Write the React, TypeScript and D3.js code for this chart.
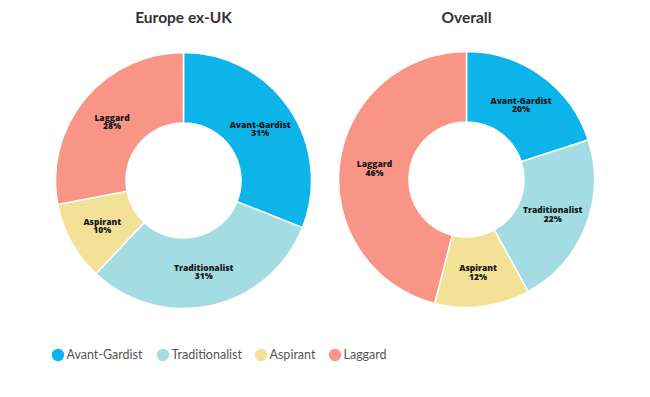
import { arc, pie, scaleOrdinal } from "d3";

const categories = ["Avant-Gardist", "Traditionalist", "Aspirant", "Laggard"];
const europeValues = [31, 31, 10, 28];
const overallValues = [20, 22, 12, 46];
const chartTitles = ["Europe ex-UK", "Overall"];
const palette = ["#0db4ea", "#a3dde3", "#f2e196", "#f99587"];

const width = 650;
const height = 397;
const outerR = 128;
const innerR = 57.5;

const color = scaleOrdinal<string, string>().domain(categories).range(palette);

type Slice = { name: string; value: number };

function Donut({ title, values, cx, cy }: { title: string; values: number[]; cx: number; cy: number }) {
  const data: Slice[] = categories.map((name, i) => ({ name, value: values[i] }));
  const arcs = pie<Slice>()
    .value((d) => d.value)
    .sort(null)(data);
  const shape = arc<any>().innerRadius(innerR).outerRadius(outerR);

  return (
    <g transform={`translate(${cx},${cy})`}>
      <text
        y={-cy + 23}
        textAnchor="middle"
        fontFamily="Lato, sans-serif"
        fontWeight={700}
        fontSize={15.5}
        fill="#333"
      >
        {title}
      </text>
      {arcs.map((a) => (
        <path key={a.data.name} d={shape(a) ?? ""} fill={color(a.data.name)} stroke="#fff" strokeWidth={1.5} />
      ))}
      {arcs.map((a) => {
        const [lx, ly] = shape.centroid(a);
        return (
          <text
            key={a.data.name}
            x={lx}
            y={ly}
            textAnchor="middle"
            fontFamily="'Open Sans', sans-serif"
            fontWeight={800}
            fontSize={8.5}
            fill="#1a1a1a"
          >
            <tspan x={lx} dy={-0.5}>{a.data.name}</tspan>
            <tspan x={lx} dy={8.5}>{a.data.value}%</tspan>
          </text>
        );
      })}
    </g>
  );
}

const legendX = [58, 163, 261, 335];

export default function App() {
  return (
    <svg
      width={width}
      height={height}
      viewBox={`0 0 ${width} ${height}`}
      style={{ position: "absolute", left: 0, top: 0, background: "#fff" }}
    >
      <Donut title={chartTitles[0]} values={europeValues} cx={183.5} cy={180.5} />
      <Donut title={chartTitles[1]} values={overallValues} cx={466.5} cy={179.5} />
      {categories.map((name, i) => (
        <g key={name} transform={`translate(${legendX[i]},355)`}>
          <circle r={6.2} fill={color(name)} />
          <text x={8.5} y={4.3} fontFamily="Lato, sans-serif" fontSize={12.5} fill="#555">
            {name}
          </text>
        </g>
      ))}
    </svg>
  );
}
